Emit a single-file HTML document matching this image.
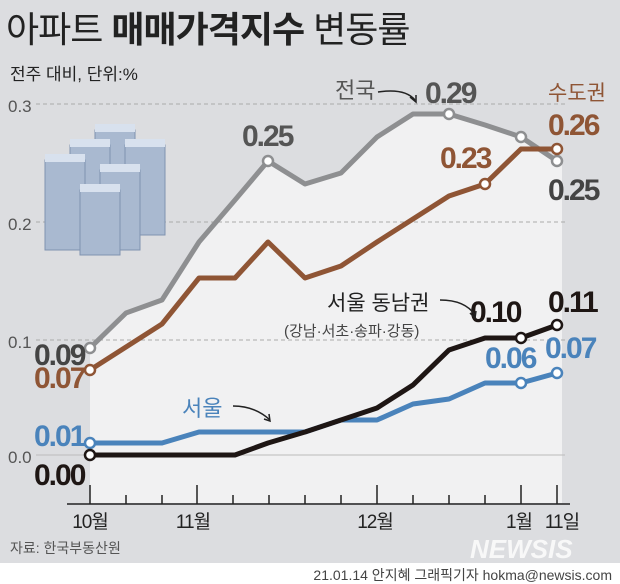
<!DOCTYPE html>
<html><head><meta charset="utf-8"><style>
body{margin:0;width:620px;height:584px;overflow:hidden;background:#dcdde0;font-family:"Liberation Sans","Noto Sans CJK KR",sans-serif}
</style></head><body>
<svg width="620" height="584" xmlns="http://www.w3.org/2000/svg" style="position:absolute;left:0;top:0;font-family:'Liberation Sans','Noto Sans CJK KR',sans-serif">
<rect width="620" height="584" fill="#dcdde0"/>
<rect y="563" width="620" height="21" fill="#fff"/>
<polygon fill="#f1f1f2" points="90,348 126,313 162,300 199,242 235,200 268,161 305,184 341,173 377,137 413,114 449,114 485,125 521,137 557,161 562,161 562,503 90,503"/>
<line x1="36" y1="104" x2="565" y2="104" stroke="#aaa" stroke-dasharray="4,3"/>
<line x1="36" y1="222" x2="565" y2="222" stroke="#aaa" stroke-dasharray="4,3"/>
<line x1="36" y1="340" x2="565" y2="340" stroke="#aaa" stroke-dasharray="4,3"/>
<line x1="36" y1="455" x2="565" y2="455" stroke="#bbb"/>
<text x="8" y="112" font-size="17" fill="#555">0.3</text>
<text x="8" y="230" font-size="17" fill="#555">0.2</text>
<text x="8" y="348" font-size="17" fill="#555">0.1</text>
<text x="8" y="463" font-size="17" fill="#555">0.0</text>
<g fill="#a9b9d0" stroke="#7f93b0" stroke-width="1">
<rect x="95" y="130" width="40" height="90"/><rect x="70" y="145" width="40" height="90"/>
<rect x="125" y="145" width="40" height="90"/><rect x="45" y="160" width="40" height="90"/>
<rect x="100" y="170" width="40" height="80"/><rect x="80" y="190" width="40" height="65"/>
</g>
<g fill="#d8e1ee"><rect x="95" y="124" width="40" height="8"/><rect x="70" y="139" width="40" height="8"/><rect x="125" y="139" width="40" height="8"/><rect x="45" y="154" width="40" height="8"/><rect x="100" y="164" width="40" height="8"/><rect x="80" y="184" width="40" height="8"/></g>
<line x1="67" y1="504" x2="570" y2="504" stroke="#222" stroke-width="1.5"/>
<g stroke="#222" stroke-width="1.5">
<line x1="90" y1="485" x2="90" y2="504"/><line x1="126" y1="495" x2="126" y2="504"/><line x1="162" y1="495" x2="162" y2="504"/><line x1="197" y1="485" x2="197" y2="504"/><line x1="233" y1="495" x2="233" y2="504"/><line x1="269" y1="495" x2="269" y2="504"/><line x1="305" y1="495" x2="305" y2="504"/><line x1="341" y1="495" x2="341" y2="504"/><line x1="377" y1="485" x2="377" y2="504"/><line x1="413" y1="495" x2="413" y2="504"/><line x1="449" y1="495" x2="449" y2="504"/><line x1="485" y1="495" x2="485" y2="504"/><line x1="521" y1="485" x2="521" y2="504"/><line x1="557" y1="485" x2="557" y2="504"/>
</g>
<g font-size="19" fill="#222" text-anchor="middle" letter-spacing="-1">
<text x="90" y="528">10월</text><text x="193" y="528">11월</text><text x="375" y="528">12월</text><text x="519" y="528">1월</text><text x="562" y="528">11일</text>
</g>
<g fill="none" stroke-width="5" stroke-linejoin="round">
<polyline stroke="#8e8f91" points="90,348 126,313 162,300 199,242 235,200 268,161 305,184 341,173 377,137 413,114 449,114 485,125 521,137 557,161"/>
<polyline stroke="#8f5535" points="90,370 126,347 162,324 199,278 235,278 268,242 305,278 341,266 377,242 413,219 449,196 485,184 521,149 557,149"/>
<polyline stroke="#4a83bb" points="90,443 126,443 162,443 199,432 235,432 268,432 305,432 341,420 377,420 413,404 449,399 485,383 521,383 557,373"/>
<polyline stroke="#1e1614" points="90,455 126,455 162,455 199,455 235,455 268,443 305,432 341,420 377,408 413,385 449,350 485,338 521,338 557,325"/>
</g>
<g fill="#fff" stroke-width="2.5">
<circle cx="90" cy="348" r="5" stroke="#8e8f91"/><circle cx="268" cy="161" r="5" stroke="#8e8f91"/><circle cx="449" cy="114" r="5" stroke="#8e8f91"/><circle cx="521" cy="137" r="5" stroke="#8e8f91"/><circle cx="557" cy="161" r="5" stroke="#8e8f91"/>
<circle cx="90" cy="370" r="5" stroke="#8f5535"/><circle cx="485" cy="184" r="5" stroke="#8f5535"/><circle cx="557" cy="149" r="5" stroke="#8f5535"/>
<circle cx="90" cy="443" r="5" stroke="#4a83bb"/><circle cx="521" cy="383" r="5" stroke="#4a83bb"/><circle cx="557" cy="373" r="5" stroke="#4a83bb"/>
<circle cx="90" cy="455" r="5" stroke="#1e1614"/><circle cx="521" cy="338" r="5" stroke="#1e1614"/><circle cx="557" cy="325" r="5" stroke="#1e1614"/>
</g>
<g font-size="30" letter-spacing="-2" font-weight="bold">
<text x="34" y="365" fill="#444">0.09</text>
<text x="34" y="388" fill="#8f5535">0.07</text>
<text x="34" y="446" fill="#4a83bb">0.01</text>
<text x="34" y="485" fill="#1e1614">0.00</text>
<text x="242" y="146" fill="#555">0.25</text>
<text x="425" y="103" fill="#555">0.29</text>
<text x="440" y="168" fill="#8f5535">0.23</text>
<text x="548" y="135" fill="#8f5535">0.26</text>
<text x="548" y="200" fill="#444">0.25</text>
<text x="470" y="322" fill="#1e1614">0.10</text>
<text x="548" y="312" fill="#1e1614">0.11</text>
<text x="485" y="368" fill="#4a83bb">0.06</text>
<text x="545" y="358" fill="#4a83bb">0.07</text>
</g>
<text x="335" y="98" font-size="22" fill="#555">전국</text>
<path d="M378,92 Q405,88 415,100" fill="none" stroke="#222" stroke-width="1.5"/><path d="M410,97 l6,5 l0,-7" fill="none" stroke="#222" stroke-width="1.5"/>
<text x="548" y="100" font-size="21" fill="#8f5535">수도권</text>
<text x="327" y="310" font-size="21" fill="#222">서울 동남권</text>
<path d="M440,300 Q465,300 475,315" fill="none" stroke="#222" stroke-width="1.5"/><path d="M470,313 l5,5 l1,-7" fill="none" stroke="#222" stroke-width="1.5"/>
<text x="284" y="336" font-size="15" fill="#444">(강남·서초·송파·강동)</text>
<text x="182" y="416" font-size="22" fill="#4a83bb">서울</text>
<path d="M233,406 Q255,406 270,420" fill="none" stroke="#222" stroke-width="1.5"/><path d="M264,419 l6,2 l-1,-7" fill="none" stroke="#222" stroke-width="1.5"/>
<text x="6" y="42" font-size="36" fill="#222" letter-spacing="-1">아파트 <tspan font-weight="bold">매매가격지수</tspan> 변동률</text>
<text x="10" y="80" font-size="17" fill="#222">전주 대비, 단위:%</text>
<text x="10" y="553" font-size="14" fill="#555">자료: 한국부동산원</text>
<text x="470" y="558" font-size="26" font-weight="bold" font-style="italic" fill="#fff" opacity="0.8">NEWSIS</text>
<text x="612" y="580" font-size="14" fill="#444" text-anchor="end">21.01.14 안지혜 그래픽기자 hokma@newsis.com</text>
</svg>
</body></html>
